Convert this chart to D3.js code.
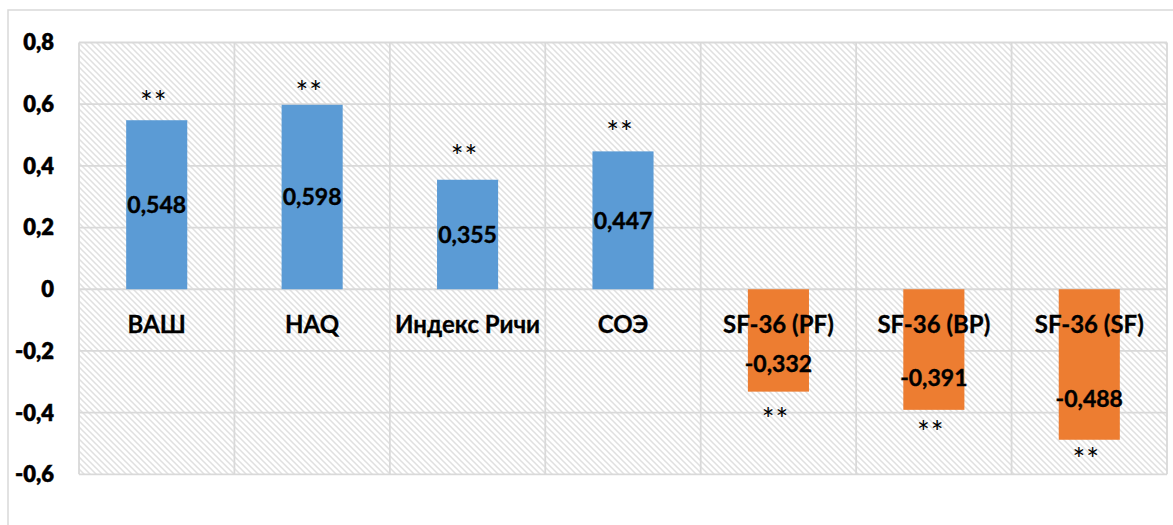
<!DOCTYPE html>
<html><head><meta charset="utf-8">
<script src="https://cdn.jsdelivr.net/npm/d3@7/dist/d3.min.js"></script>
<style>body{margin:0;background:#fff}svg{display:block}text{font-family:Lato,"Open Sans",sans-serif}</style>
</head><body><svg id="c" width="1173" height="525"></svg>
<script>
const categories = ["ВАШ","HAQ","Индекс Ричи","СОЭ","SF-36 (PF)","SF-36 (BP)","SF-36 (SF)"];
const values = [0.548,0.598,0.355,0.447,-0.332,-0.391,-0.488];
const valueLabels = ["0,548","0,598","0,355","0,447","-0,332","-0,391","-0,488"];
const sigMarks = ["**","**","**","**","**","**","**"];
const sigAt = [0.632,0.665,0.457,0.535,-0.395,-0.438,-0.525];
const yTicks = [0.8,0.6,0.4,0.2,0,-0.2,-0.4,-0.6];
const yTickLabels = ["0,8","0,6","0,4","0,2","0","-0,2","-0,4","-0,6"];

const svg = d3.select("#c");
const L = 79, R = 1167, T = 42.5, B = 474.3;
const y = d3.scaleLinear().domain([-0.6,0.8]).range([B,T]);
const cell = d3.scaleBand().domain(categories).range([L,R]).padding(0);
const x = d3.scaleBand().domain(categories).range([L,R]).paddingInner(0.607).paddingOuter(0.3035);
const grid = "#d9d9d9";

const defs = svg.append("defs");
const pat = defs.append("pattern").attr("id","hatch").attr("patternUnits","userSpaceOnUse")
  .attr("width",6).attr("height",6);
pat.append("rect").attr("width",6).attr("height",6).attr("fill","#fff");
pat.append("path").attr("d","M-1,-1 L7,7 M-1,5 L1,7 M5,-1 L7,1").attr("stroke","#e0e0e0").attr("stroke-width",1.5);

// outer chart border
svg.append("path").attr("d",`M8,525 L8,10 L1173,10`).attr("fill","none").attr("stroke",grid).attr("stroke-width",1.5);

// plot background
svg.append("rect").attr("x",L).attr("y",T).attr("width",R-L).attr("height",B-T).attr("fill","url(#hatch)");

// gridlines
svg.append("g").selectAll("line").data(yTicks).join("line")
  .attr("x1",L).attr("x2",R).attr("y1",d=>y(d)).attr("y2",d=>y(d))
  .attr("stroke",grid).attr("stroke-width",1.8);
const bounds = categories.map(c=>cell(c)).concat([R]);
svg.append("g").selectAll("line").data(bounds).join("line")
  .attr("x1",d=>d).attr("x2",d=>d).attr("y1",T).attr("y2",B)
  .attr("stroke",grid).attr("stroke-width",1.8);

// y tick labels
svg.append("g").selectAll("text").data(yTicks).join("text")
  .attr("x",54).attr("y",d=>y(d)).attr("dy","0.36em").attr("text-anchor","end")
  .attr("font-size",22).attr("font-weight",800).attr("fill","#000")
  .attr("stroke","#000").attr("stroke-width",0.4)
  .text((d,i)=>yTickLabels[i]);

// bars
svg.append("g").selectAll("rect").data(values).join("rect")
  .attr("x",(d,i)=>x(categories[i])).attr("width",x.bandwidth())
  .attr("y",d=>y(Math.max(0,d))).attr("height",d=>Math.abs(y(d)-y(0)))
  .attr("fill",d=>d>=0?"#5b9bd5":"#ed7d31");

// category labels
svg.append("g").selectAll("text").data(categories).join("text")
  .attr("x",d=>cell(d)+cell.bandwidth()/2).attr("y",y(-0.115)).attr("dy","0.36em")
  .attr("text-anchor","middle").attr("font-size",24).attr("font-weight",700).attr("fill","#000")
  .attr("stroke","#000").attr("stroke-width",0.3)
  .text(d=>d);

// value labels
svg.append("g").selectAll("text").data(values).join("text")
  .attr("x",(d,i)=>x(categories[i])+x.bandwidth()/2)
  .attr("y",d=>y(d>=0?d*0.5:d*0.73)).attr("dy","0.36em")
  .attr("text-anchor","middle").attr("font-size",23).attr("font-weight",700).attr("fill","#000")
  .attr("stroke","#000").attr("stroke-width",0.4)
  .text((d,i)=>valueLabels[i]);

// significance marks
svg.append("g").selectAll("text").data(sigAt).join("text")
  .attr("x",(d,i)=>x(categories[i])+x.bandwidth()/2-3)
  .attr("y",d=>y(d)).attr("dy","0.62em")
  .attr("text-anchor","middle").attr("font-size",30).attr("letter-spacing",1).attr("fill","#000")
  .text((d,i)=>sigMarks[i]);
</script></body></html>
